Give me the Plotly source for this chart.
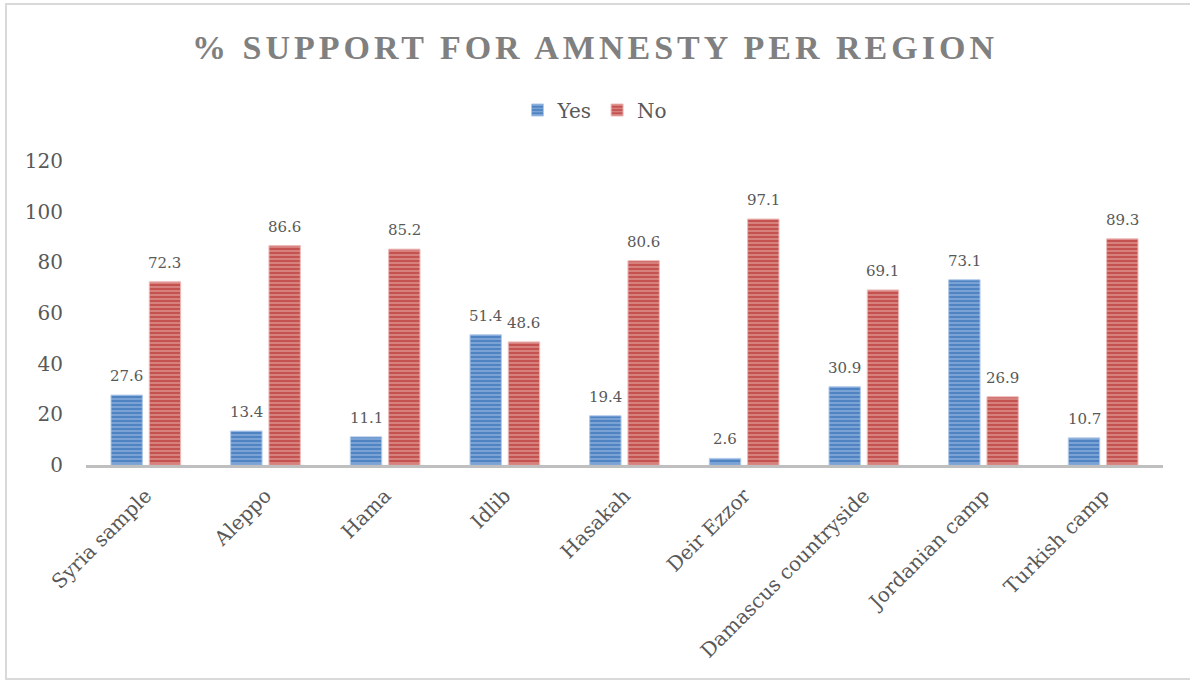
import plotly.graph_objects as go

regions = ["Syria sample", "Aleppo", "Hama", "Idlib", "Hasakah", "Deir Ezzor",
           "Damascus countryside", "Jordanian camp", "Turkish camp"]
yes_pct = [27.6, 13.4, 11.1, 51.4, 19.4, 2.6, 30.9, 73.1, 10.7]
no_pct = [72.3, 86.6, 85.2, 48.6, 80.6, 97.1, 69.1, 26.9, 89.3]
y_ticks = [0, 20, 40, 60, 80, 100, 120]

SERIF = "DejaVu Serif"
TITLE_FONT = "Liberation Serif"
TEXT_GREY = "#595959"
W, H = 1190, 681
ML, MR, MT, MB = 86, 27, 161, 216
PLOT_W = W - ML - MR
PLOT_H = H - MT - MB
BAR_SLOT_PX = 38  # horizontal distance between paired bar centres


def striped(base, light):
    return dict(
        color=base,
        line=dict(color=light, width=1),
        pattern=dict(shape="-", fgcolor=light, bgcolor=base, size=4,
                     solidity=0.45, fillmode="overlay"),
    )


fig = go.Figure()
fig.add_trace(go.Bar(name="Yes", x=regions, y=yes_pct,
                     marker=striped("#4f83c2", "#b0c9ea")))
fig.add_trace(go.Bar(name="No", x=regions, y=no_pct,
                     marker=striped("#c4524f", "#eebbb9")))

# value labels above each bar
annotations = []
for series, shift in ((yes_pct, -BAR_SLOT_PX / 2), (no_pct, BAR_SLOT_PX / 2)):
    for region, value in zip(regions, series):
        annotations.append(dict(
            x=region, y=value, xref="x", yref="y",
            text=f"{value:.1f}", showarrow=False,
            xshift=shift, yshift=8, yanchor="bottom", xanchor="center",
            font=dict(family=SERIF, size=15, color=TEXT_GREY),
        ))

fig.update_layout(
    width=W, height=H,
    margin=dict(l=ML, r=MR, t=MT, b=MB),
    paper_bgcolor="white", plot_bgcolor="white",
    barmode="group", bargap=0.36, bargroupgap=0.18,
    title=dict(
        text="<b>% SUPPORT FOR AMNESTY PER REGION</b>",
        x=0.5, xref="container", xanchor="center",
        y=1 - 47 / H, yanchor="middle",
        font=dict(family=TITLE_FONT, size=34, color="#808080"),
    ),
    legend=dict(
        orientation="h", x=0.5, xanchor="center", xref="container",
        y=1 - 110 / H, yanchor="middle", yref="container",
        font=dict(family=SERIF, size=20, color=TEXT_GREY),
        itemwidth=30, traceorder="normal",
    ),
    xaxis=dict(
        tickangle=-45, showgrid=False, showline=True, linecolor="#bfbfbf",
        linewidth=3, ticks="", ticklabelstandoff=8,
        tickfont=dict(family=SERIF, size=20, color=TEXT_GREY),
    ),
    yaxis=dict(
        range=[0, 120], tickvals=y_ticks, showgrid=False, zeroline=False,
        showline=False, ticks="", ticklabelstandoff=22,
        tickfont=dict(family=SERIF, size=20, color=TEXT_GREY),
    ),
    annotations=annotations,
    shapes=[dict(
        type="rect", xref="paper", yref="paper",
        x0=(6 - ML) / PLOT_W, x1=(W + 40 - ML) / PLOT_W,
        y0=-(679 - (H - MB)) / PLOT_H, y1=1 + (MT - 4) / PLOT_H,
        line=dict(color="#d9d9d9", width=2), fillcolor="rgba(0,0,0,0)",
        layer="below",
    )],
)

letter_spacing = """
var t = document.querySelector('.gtitle');
if (t) { t.style.letterSpacing = '4px'; }
"""

fig.write_html("out.html", post_script=letter_spacing)
